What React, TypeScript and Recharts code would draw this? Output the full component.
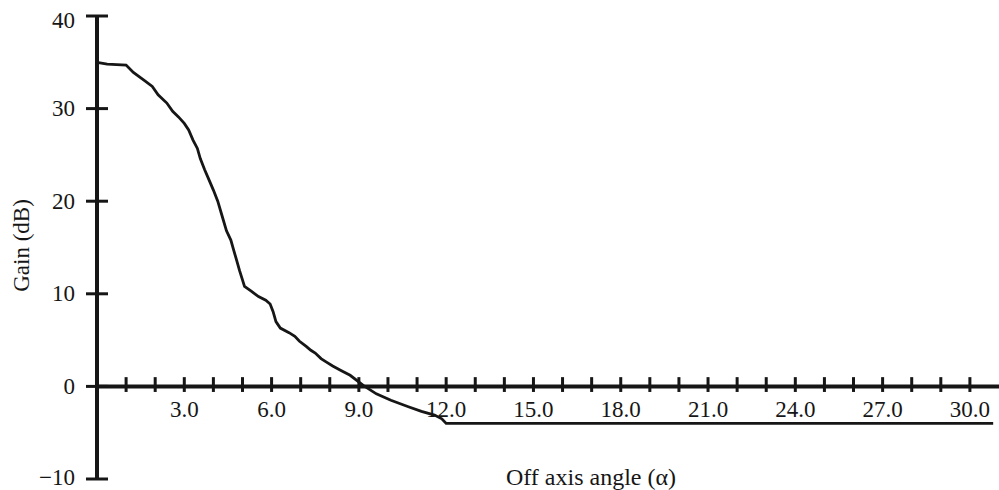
import { LineChart, Line, XAxis, YAxis, ReferenceLine } from 'recharts';

// Off-axis gain measurements (angle in degrees, gain in dB)
const ANGLES = [
  0, 0.35, 1.0, 1.25, 1.6, 1.9, 2.1, 2.4, 2.6, 2.8, 3.0, 3.15, 3.3, 3.45, 3.55, 3.7, 3.85, 4.0,
  4.15, 4.3, 4.45, 4.6, 4.7, 4.8, 4.9, 5.0, 5.07, 5.3, 5.55, 5.8, 5.95, 6.05, 6.15, 6.3, 6.6,
  6.8, 6.95, 7.2, 7.35, 7.5, 7.7, 7.9, 8.1, 8.4, 8.7, 9.15, 9.6, 10.1, 10.7, 11.15, 11.6, 11.85,
  12.0, 30.8,
];
const GAINS = [
  35.0, 34.8, 34.7, 33.9, 33.1, 32.4, 31.5, 30.6, 29.7, 29.1, 28.4, 27.7, 26.6, 25.7, 24.6, 23.4,
  22.3, 21.2, 20.0, 18.4, 16.8, 15.8, 14.7, 13.6, 12.5, 11.5, 10.8, 10.3, 9.7, 9.3, 8.9, 8.1, 7.0,
  6.3, 5.8, 5.4, 4.9, 4.3, 3.9, 3.6, 3.0, 2.6, 2.2, 1.7, 1.2, 0.1, -0.8, -1.5, -2.2, -2.7, -3.1,
  -3.5, -4.0, -4.0,
];

const Y_TICKS = [-10, 0, 10, 20, 30, 40];
const X_TICKS = [
  1, 2, 3, 4, 5, 6, 7, 8, 9, 10, 11, 12, 13, 14, 15, 16, 17, 18, 19, 20, 21, 22, 23, 24, 25, 26,
  27, 28, 29, 30,
];
const X_LABEL_AT = [3, 6, 9, 12, 15, 18, 21, 24, 27, 30];
const X_LABELS = ['3.0', '6.0', '9.0', '12.0', '15.0', '18.0', '21.0', '24.0', '27.0', '30.0'];

const data = ANGLES.map((angle, i) => ({ angle, gain: GAINS[i] }));

const INK = '#161616';
const FONT = '"Liberation Serif", "Times New Roman", serif';

// y ticks cross the axis line, label sits to the left
function GainTick(props: any) {
  const { x, y, payload } = props;
  const v = payload.value as number;
  const text = v < 0 ? `\u2212${-v}` : String(v);
  // keep the end labels clear of the svg edges
  const nudge = v === 40 ? 4 : v === -10 ? -2 : 0;
  return (
    <g>
      <line x1={x - 11} x2={x + 11} y1={y} y2={y} stroke={INK} strokeWidth={3} />
      <text
        x={x - 22}
        y={y + nudge}
        dy="0.33em"
        textAnchor="end"
        fill={INK}
        fontSize={23}
        fontFamily={FONT}
      >
        {text}
      </text>
    </g>
  );
}

function GainTitle(props: any) {
  const vb = props.viewBox || { x: 0, y: 16, width: 97, height: 463 };
  const cx = vb.x + 21;
  const cy = vb.y + vb.height / 2 - 2;
  return (
    <text
      x={cx}
      y={cy}
      dy="0.33em"
      transform={`rotate(-90 ${cx} ${cy})`}
      textAnchor="middle"
      fill={INK}
      fontSize={23}
      fontFamily={FONT}
    >
      Gain (dB)
    </text>
  );
}

function AngleTitle(props: any) {
  const vb = props.viewBox || { x: 97, y: 479, width: 902, height: 11 };
  return (
    <text
      x={vb.x + vb.width / 2 + 43}
      y={vb.y + 6}
      textAnchor="middle"
      fill={INK}
      fontSize={24}
      fontFamily={FONT}
    >
      Off axis angle (α)
    </text>
  );
}

export default function App() {
  return (
    <div style={{ position: 'absolute', left: 0, top: 0, width: 999, height: 490, background: '#fff' }}>
      <LineChart width={999} height={490} data={data} margin={{ top: 16, right: 0, bottom: 0, left: 0 }}>
        <XAxis
          dataKey="angle"
          type="number"
          domain={[0, 31]}
          height={11}
          tick={false}
          tickLine={false}
          axisLine={false}
          label={{ content: (p: any) => <AngleTitle {...p} /> }}
        />
        <YAxis
          type="number"
          domain={[-10, 40]}
          ticks={Y_TICKS}
          width={97}
          tickSize={0}
          tickMargin={0}
          tickLine={false}
          axisLine={{ stroke: INK, strokeWidth: 4 }}
          tick={<GainTick />}
          label={{ content: (p: any) => <GainTitle {...p} /> }}
        />
        {/* horizontal axis drawn through gain = 0 */}
        <ReferenceLine y={0} stroke={INK} strokeWidth={4} />
        {X_TICKS.map((t) => (
          <ReferenceLine
            key={`tick-${t}`}
            segment={[
              { x: t, y: -0.6 },
              { x: t, y: 1.0 },
            ]}
            stroke={INK}
            strokeWidth={3}
            ifOverflow="visible"
          />
        ))}
        {X_LABEL_AT.map((t, i) => (
          <ReferenceLine
            key={`label-${t}`}
            segment={[
              { x: t, y: -0.6 },
              { x: t, y: -0.6 },
            ]}
            stroke="none"
            ifOverflow="visible"
            label={{
              value: X_LABELS[i],
              position: 'bottom',
              offset: 9,
              fill: INK,
              fontSize: 23,
              fontFamily: FONT,
            }}
          />
        ))}
        <Line
          type="linear"
          dataKey="gain"
          stroke={INK}
          strokeWidth={2.8}
          dot={false}
          isAnimationActive={false}
        />
      </LineChart>
    </div>
  );
}
